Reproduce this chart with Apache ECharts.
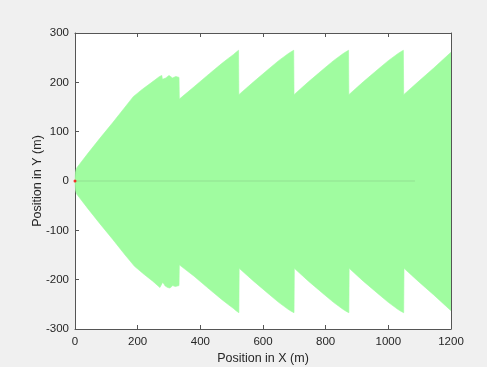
<!DOCTYPE html>
<html>
<head>
<meta charset="utf-8">
<script src="https://cdn.jsdelivr.net/npm/echarts@6/dist/echarts.min.js"></script>
<style>
html,body{margin:0;padding:0;background:#f0f0f0;}
#c{width:487px;height:367px;}
</style>
</head>
<body>
<div id="c"></div>
<script>
// Upper envelope of the trajectory band (x in m, y in m)
var upperX = [0, 0.5, 1.5, 3, 6, 10, 40, 80, 120, 160, 186, 215, 245, 270, 277, 279, 281, 290, 300, 303, 306, 311, 316, 322, 326, 332, 333,
  380, 430, 470, 490, 505, 514, 519, 522, 523,
  570, 620, 650, 665, 680, 690, 695, 698, 699,
  745, 795, 825, 840, 855, 865, 870, 873, 874,
  920, 970, 1000, 1015, 1030, 1040, 1045, 1048, 1049,
  1095, 1145, 1200];
var upperY = [0, 9, 16, 22, 27, 31, 55, 87, 118, 150, 171, 186, 200, 212, 214, 206, 203, 209, 214, 215, 212, 209, 212, 212, 210, 210, 166,
  191, 218, 239, 249, 256, 261, 264, 265, 175,
  201, 228, 244, 251, 258, 262, 264, 265, 175,
  201, 228, 244, 251, 258, 262, 264, 265, 175,
  201, 228, 244, 251, 258, 262, 264, 265, 175,
  201, 229, 261];
// Lower envelope
var lowerX = [0, 0.5, 1.5, 3, 6, 10, 40, 80, 120, 160, 190, 220, 248, 271, 277, 280, 283, 288, 296, 303, 307, 312, 316, 320, 326, 332, 333,
  380, 430, 470, 490, 505, 514, 519, 523, 524,
  570, 620, 650, 665, 680, 690, 695, 699, 700,
  745, 795, 825, 840, 855, 865, 870, 874, 875,
  920, 970, 1000, 1015, 1030, 1040, 1045, 1049, 1050,
  1095, 1145, 1200];
var lowerY = [0, -9, -16, -22, -27, -30, -55, -87, -118, -150, -173, -189, -203, -216, -215, -205, -207, -213, -216, -217, -214, -212, -213, -214, -213, -212, -170,
  -193, -220, -241, -251, -258, -263, -266, -267, -177,
  -203, -230, -246, -253, -260, -264, -266, -267, -177,
  -203, -230, -246, -253, -260, -264, -266, -267, -177,
  -203, -230, -246, -253, -260, -264, -266, -267, -177,
  -203, -231, -263];
// Centre path along y = 0
var centerX = [0, 1085];
var centerY = [0, 0];

var xTicks = [0, 200, 400, 600, 800, 1000, 1200];
var yTicks = [-300, -200, -100, 0, 100, 200, 300];

function pairs(xs, ys) { return xs.map(function (x, i) { return [x, ys[i]]; }); }

var fill = '#a0fca0';
var axisCol = '#555555';
var txt = '#262626';
var font = 'Liberation Sans, Arial, Helvetica, sans-serif';

function xAx(pos, labels) {
  return {
    type: 'value', position: pos, min: xTicks[0], max: xTicks[xTicks.length - 1], interval: 200,
    axisLine: { show: true, onZero: false, lineStyle: { color: axisCol, width: 1 } },
    axisTick: { show: true, inside: true, length: 4, lineStyle: { color: axisCol } },
    axisLabel: { show: labels, color: txt, fontSize: 11.5, fontFamily: font, margin: 7,
      formatter: function (v) { return String(v); } },
    splitLine: { show: false },
    name: labels ? 'Position in X (m)' : '', nameLocation: 'middle', nameGap: 23, nameMoveOverlap: false,
    nameTextStyle: { color: txt, fontSize: 12.5, fontFamily: font }
  };
}
function yAx(pos, labels) {
  return {
    type: 'value', position: pos, min: yTicks[0], max: yTicks[yTicks.length - 1], interval: 100,
    axisLine: { show: true, onZero: false, lineStyle: { color: axisCol, width: 1 } },
    axisTick: { show: true, inside: true, length: 4, lineStyle: { color: axisCol } },
    axisLabel: { show: labels, color: txt, fontSize: 11.5, fontFamily: font, margin: 6,
      formatter: function (v) { return String(v); } },
    splitLine: { show: false },
    name: labels ? 'Position in Y (m)' : '', nameLocation: 'middle', nameGap: 31, nameMoveOverlap: false,
    nameTextStyle: { color: txt, fontSize: 12.5, fontFamily: font }
  };
}

var chart = echarts.init(document.getElementById('c'), null, { renderer: 'canvas' });
chart.setOption({
  backgroundColor: '#f0f0f0',
  animation: false,
  grid: { left: 75, right: 36, top: 33, bottom: 38, show: true, backgroundColor: '#ffffff', borderWidth: 0,
    containLabel: false, outerBoundsMode: 'none' },
  xAxis: [xAx('bottom', true), xAx('top', false)],
  yAxis: [yAx('left', true), yAx('right', false)],
  series: [
    { type: 'line', data: pairs(upperX, upperY), showSymbol: false, smooth: false,
      lineStyle: { width: 0.6, color: fill }, areaStyle: { color: fill, opacity: 1 }, z: 2 },
    { type: 'line', data: pairs(lowerX, lowerY), showSymbol: false, smooth: false,
      lineStyle: { width: 0.6, color: fill }, areaStyle: { color: fill, opacity: 1 }, z: 2 },
    { type: 'line', data: pairs(centerX, centerY), showSymbol: false,
      lineStyle: { width: 1.5, color: '#97ea97' }, z: 3 },
    { type: 'scatter', data: [[0, 0]], symbolSize: 3, itemStyle: { color: '#ff0000' }, z: 4 }
  ]
});
</script>
</body>
</html>
